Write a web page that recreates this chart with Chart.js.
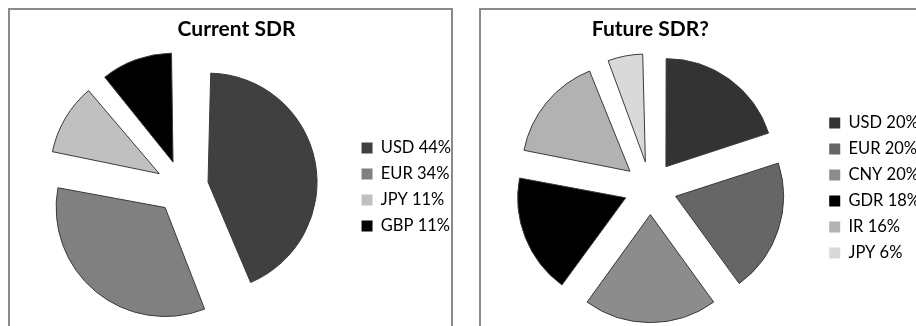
<!DOCTYPE html>
<html>
<head>
<meta charset="utf-8">
<script src="https://cdn.jsdelivr.net/npm/chart.js@4.4.1/dist/chart.umd.min.js"></script>
<style>
  body { margin: 0; background: #fff; width: 916px; height: 326px; overflow: hidden; position: relative; }
  .frame { position: absolute; top: 8px; height: 340px; border: 2px solid #8a8a8a; background: #fff; }
  .frame canvas { position: absolute; left: 0; top: 0; }
</style>
</head>
<body>
<div class="frame" style="left:8px; width:441px;"><canvas id="current" width="441" height="316"></canvas></div>
<div class="frame" style="left:479px; width:470px;"><canvas id="future" width="452" height="316"></canvas></div>
<script>
// current basket
var currentLabels = ['USD', 'EUR', 'JPY', 'GBP'];
var currentShares = [44, 34, 11, 11];
var currentColors = ['#404040', '#808080', '#c0c0c0', '#000000'];

// proposed basket
var futureLabels = ['USD', 'EUR', 'CNY', 'GDR', 'IR', 'JPY'];
var futureShares = [20, 20, 20, 18, 16, 6];
var futureColors = ['#333333', '#666666', '#8c8c8c', '#000000', '#b2b2b2', '#d9d9d9'];

var EXPLODE = 26.5;

Chart.defaults.font.family = 'Lato, Calibri, sans-serif';
Chart.defaults.color = '#000';

// chart.js pushes exploded slices outwards a bit, pull them back to one radius
var evenRadius = {
  id: 'evenRadius',
  afterDatasetsUpdate: function(chart) {
    chart.getDatasetMeta(0).data.forEach(function(arc) {
      var off = (arc.options.offset || 0) / 4;
      var fix = 1 - Math.sin(Math.min(Math.PI, arc.circumference));
      arc.outerRadius -= off * fix;
    });
  }
};

function legendItems(chart) {
  var ds = chart.data.datasets[0];
  return chart.data.labels.map(function(l, i) {
    return {
      text: l + ' ' + ds.data[i] + '%',
      fillStyle: ds.backgroundColor[i],
      strokeStyle: ds.backgroundColor[i],
      lineWidth: 0,
      hidden: false,
      index: i
    };
  });
}

function makePie(el, title, labels, shares, colors, radius, pad, titleFull) {
  return new Chart(document.getElementById(el), {
    type: 'pie',
    data: {
      labels: labels,
      datasets: [{
        data: shares,
        backgroundColor: colors,
        borderColor: '#3a3a3a',
        borderWidth: 1,
        offset: EXPLODE * 4,
        hoverOffset: 0,
        radius: radius
      }]
    },
    options: {
      responsive: false,
      animation: false,
      layout: { padding: pad },
      plugins: {
        title: {
          display: true,
          text: title,
          fullSize: titleFull,
          font: { size: 21, weight: 'bold' },
          padding: { top: 7, bottom: 8 }
        },
        legend: {
          position: 'right',
          fullSize: false,
          labels: {
            boxWidth: 11,
            boxHeight: 11,
            padding: 9.5,
            font: { size: 16.5 },
            generateLabels: legendItems
          }
        },
        tooltip: { enabled: false }
      }
    },
    plugins: [evenRadius]
  });
}

makePie('current', 'Current SDR', currentLabels, currentShares, currentColors, 109,
  { left: 2, right: -10, top: 0, bottom: 2 }, true);
makePie('future', 'Future SDR?', futureLabels, futureShares, futureColors, 108,
  { left: 0, right: 3, top: 0, bottom: 0 }, false);
</script>
</body>
</html>
